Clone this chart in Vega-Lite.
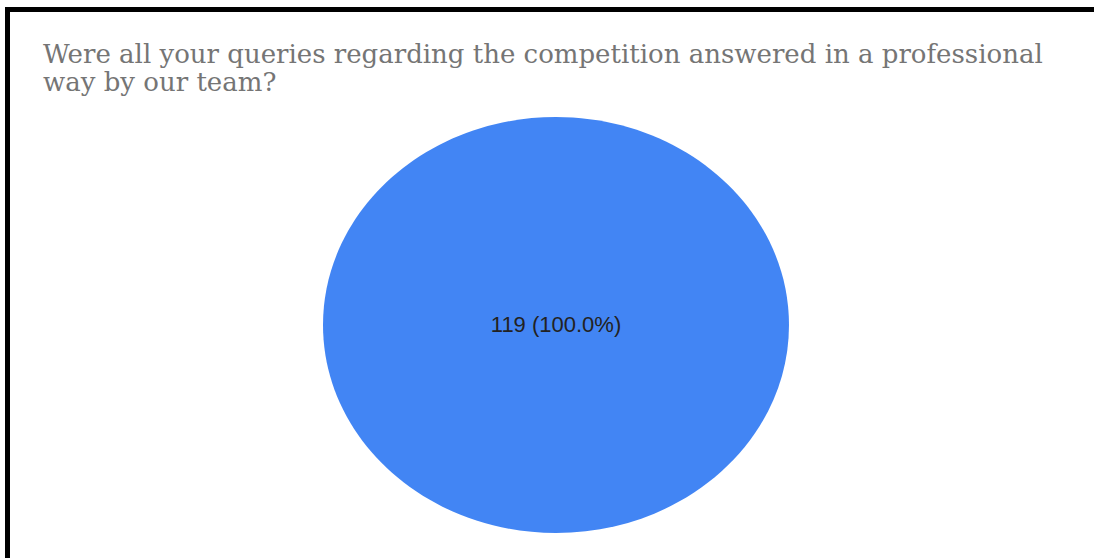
{
  "$schema": "https://vega.github.io/schema/vega-lite/v6.json",
  "width": 1097,
  "height": 631,
  "autosize": {"type": "none"},
  "padding": {"left": 7.5, "top": 9.5, "right": 0, "bottom": 0},
  "background": "white",
  "view": {"stroke": "black", "strokeWidth": 5, "fill": "white"},
  "title": {
    "text": ["Were all your queries regarding the competition answered in a professional", "way by our team?"],
    "anchor": "start",
    "frame": "group",
    "offset": -86,
    "dx": 35.5,
    "font": "DejaVu Serif",
    "fontSize": 26,
    "fontWeight": "normal",
    "color": "#757575",
    "lineHeight": 28
  },
  "data": {
    "values": [
      {"answer": "Yes", "count": 119, "label": "119 (100.0%)"}
    ]
  },
  "layer": [
    {
      "mark": {
        "type": "point",
        "filled": true,
        "opacity": 1,
        "size": 217156,
        "shape": "M -1 0 A 1 0.8927 0 1 0 1 0 A 1 0.8927 0 1 0 -1 0 Z"
      },
      "encoding": {
        "color": {"field": "answer", "type": "nominal", "scale": {"range": ["#4285F4"]}, "legend": null}
      }
    },
    {
      "mark": {"type": "text", "font": "Liberation Sans", "fontSize": 22, "color": "#222222", "baseline": "middle", "align": "center"},
      "encoding": {
        "text": {"field": "label", "type": "nominal"}
      }
    }
  ]
}
